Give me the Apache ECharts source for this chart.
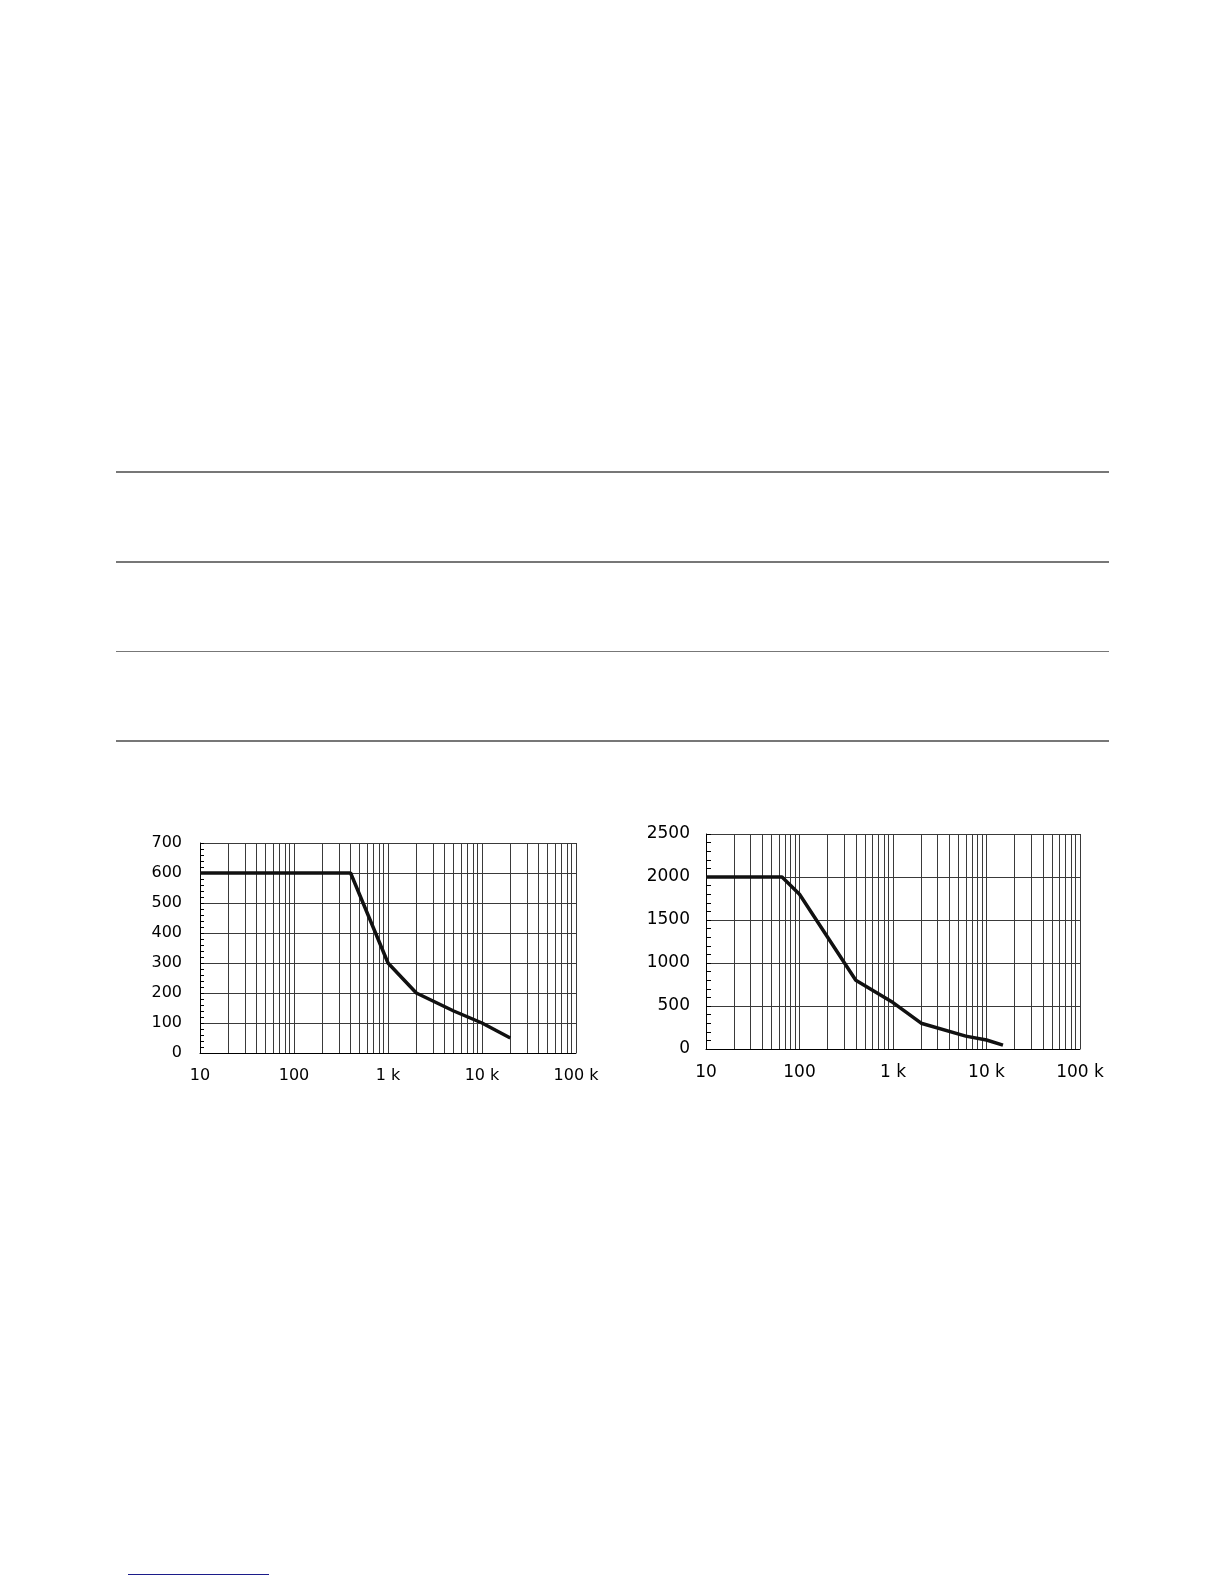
<!DOCTYPE html>
<html>
<head>
<meta charset="utf-8">
<style>
  html, body { margin: 0; padding: 0; background: #fff; }
  #page { position: relative; width: 1224px; height: 1584px; }
  #chart { position: absolute; left: 0; top: 0; width: 1224px; height: 1584px; }
  .rule { position: absolute; left: 116px; width: 993px; background: #777; }
  .link { position: absolute; left: 128px; top: 1574px; width: 141px; height: 1px; background: #1c1c8a; }
</style>
<script src="https://cdn.jsdelivr.net/npm/echarts@6/dist/echarts.min.js"></script>
</head>
<body>
<div id="page">
  <div class="rule" style="top:471px;height:2px"></div>
  <div class="rule" style="top:561px;height:2px"></div>
  <div class="rule" style="top:651px;height:1px"></div>
  <div class="rule" style="top:740px;height:2px"></div>
  <div class="link"></div>
  <div id="chart"></div>
</div>
<script>
// left chart
var freq1 = [10, 400, 1000, 2000, 5000, 10000, 20000];
var volt1 = [600, 600, 300, 200, 140, 100, 50];
// right chart
var freq2 = [10, 65, 100, 200, 400, 1000, 2000, 6000, 10000, 15000];
var volt2 = [2000, 2000, 1800, 1300, 800, 540, 300, 150, 105, 45];

var xTickLabels = ["10", "100", "1 k", "10 k", "100 k"];
// vertical grid lines between decades
var freqGrid = [20, 30, 40, 50, 60, 70, 80, 90,
  200, 300, 400, 500, 600, 700, 800, 900,
  2000, 3000, 4000, 5000, 6000, 7000, 8000, 9000,
  20000, 30000, 40000, 50000, 60000, 70000, 80000, 90000];

var gridColor = "#3a3a3a";

function font(size) {
  return { fontFamily: "DejaVu Sans", fontSize: size, color: "#000" };
}

function xAxisOpt(gridIndex, size) {
  return {
    type: "log",
    logBase: 10,
    gridIndex: gridIndex,
    min: 10,
    max: 100000,
    axisLine: { show: true, lineStyle: { color: "#000", width: 1 } },
    axisTick: { show: false },
    axisLabel: Object.assign({
      margin: 15,
      formatter: function (v, i) {
        return xTickLabels[i];
      }
    }, font(size)),
    splitLine: { show: true, lineStyle: { color: gridColor, width: 1 } }
  };
}

function yAxisOpt(gridIndex, max, interval, margin, tickLen, size) {
  return {
    type: "value",
    gridIndex: gridIndex,
    min: 0,
    max: max,
    interval: interval,
    axisLine: { show: true, lineStyle: { color: "#000", width: 1 } },
    axisTick: { show: true, inside: true, length: tickLen, lineStyle: { color: "#000" } },
    minorTick: { show: true, splitNumber: 5, length: tickLen, lineStyle: { color: "#000" } },
    axisLabel: Object.assign({
      margin: margin,
      formatter: function (v) {
        return String(v);
      }
    }, font(size)),
    splitLine: { show: true, lineStyle: { color: gridColor, width: 1 } }
  };
}

function pairs(xs, ys) {
  return xs.map(function (x, i) {
    return [x, ys[i]];
  });
}

function gridLines(idx) {
  return {
    type: "line",
    xAxisIndex: idx,
    yAxisIndex: idx,
    data: [],
    z: 1,
    silent: true,
    markLine: {
      silent: true,
      symbol: ["none", "none"],
      label: { show: false },
      lineStyle: { type: "solid", color: gridColor, width: 1 },
      data: freqGrid.map(function (v) {
        return { xAxis: v };
      })
    }
  };
}

function curve(idx, xs, ys) {
  return {
    type: "line",
    xAxisIndex: idx,
    yAxisIndex: idx,
    data: pairs(xs, ys),
    symbol: "none",
    z: 5,
    lineStyle: { color: "#111", width: 3.5 }
  };
}

var option = {
  animation: false,
  backgroundColor: "transparent",
  grid: [
    { left: 200, top: 843, width: 376, height: 210 },
    { left: 706, top: 834, width: 374, height: 215 }
  ],
  xAxis: [xAxisOpt(0, 16), xAxisOpt(1, 17)],
  yAxis: [
    yAxisOpt(0, 700, 100, 18, 4, 16),
    yAxisOpt(1, 2500, 500, 16, 5, 17)
  ],
  series: [
    gridLines(0),
    gridLines(1),
    curve(0, freq1, volt1),
    curve(1, freq2, volt2)
  ]
};

var chart = echarts.init(document.getElementById("chart"));
chart.setOption(option);
</script>
</body>
</html>
